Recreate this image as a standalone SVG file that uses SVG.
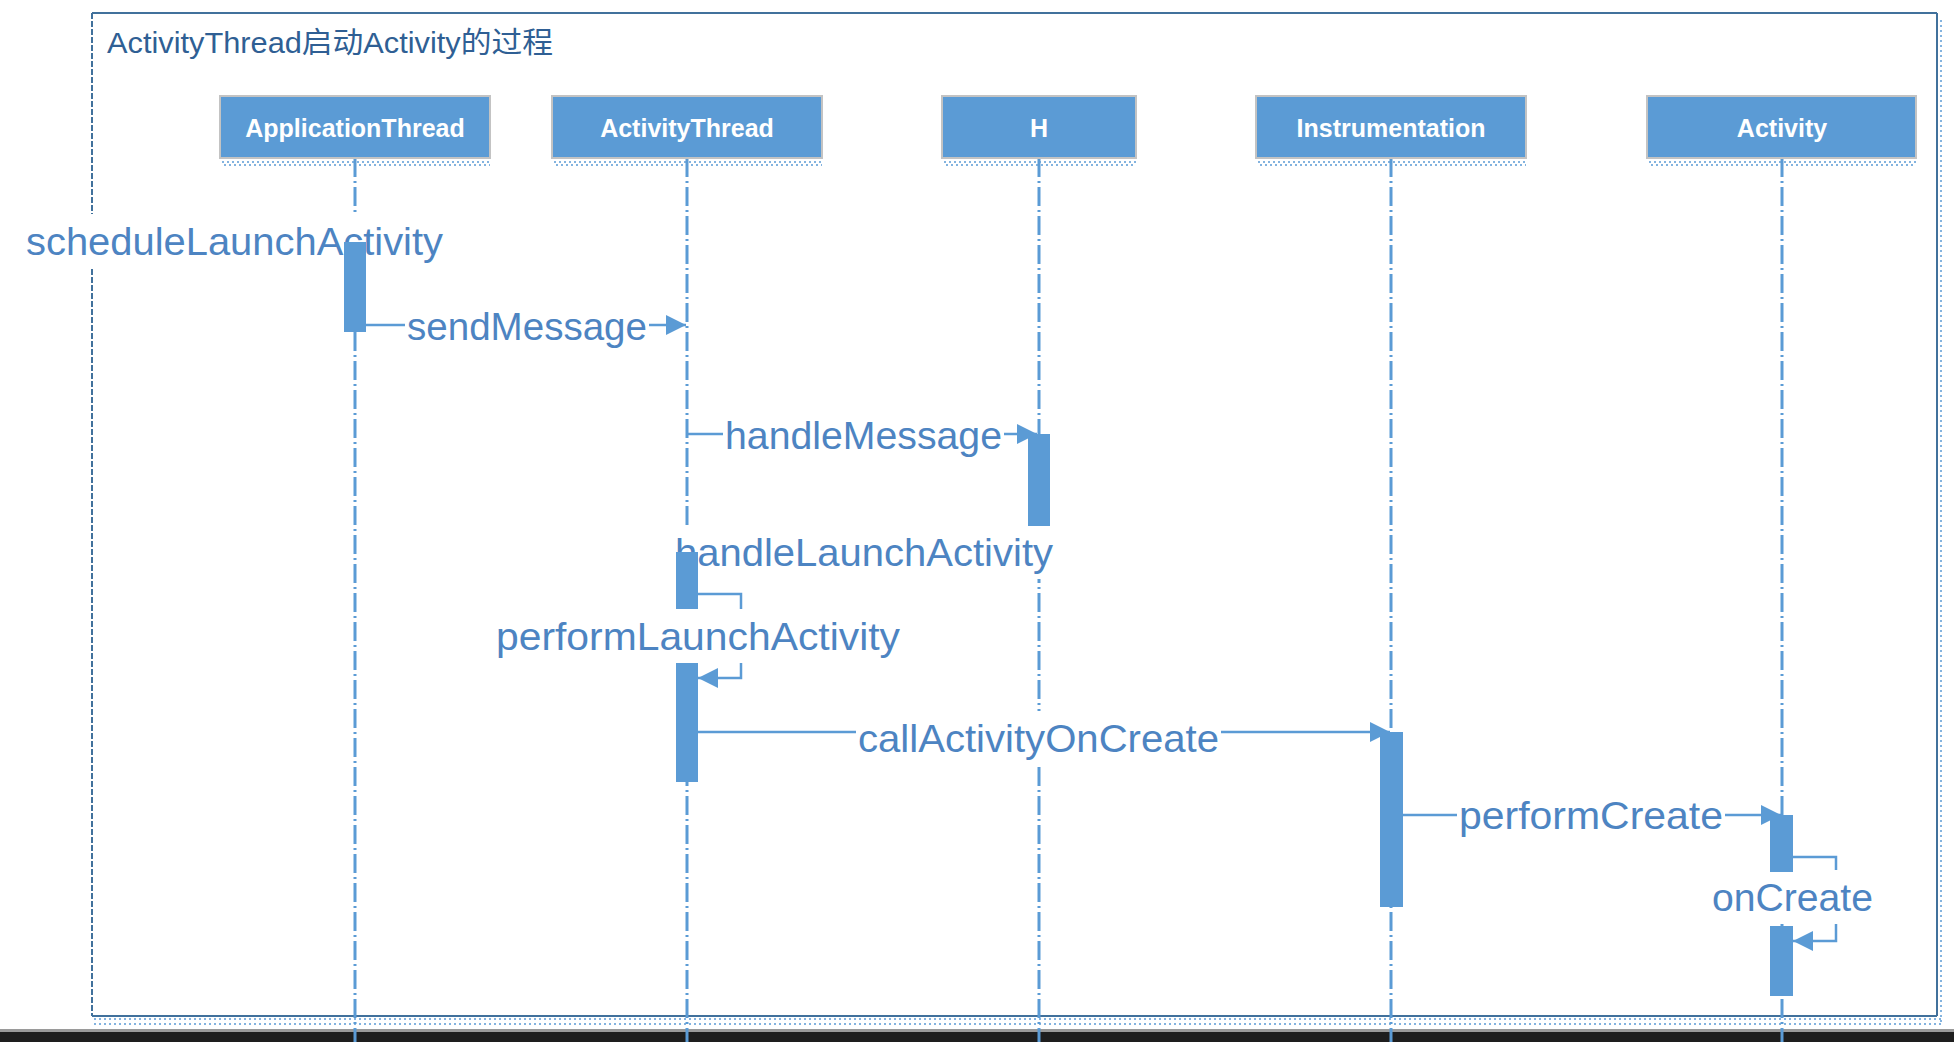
<svg xmlns="http://www.w3.org/2000/svg" width="1954" height="1042" viewBox="0 0 1954 1042">
<defs>
<style>
.box{fill:#5B9BD5;stroke:#c3c3c3;stroke-width:2}
.boxt{font-family:"Liberation Sans",Arial,sans-serif;font-size:25px;font-weight:bold;fill:#ffffff;text-anchor:middle}
.life{stroke:#5B9BD5;stroke-width:3;stroke-dasharray:19 4 2 4;fill:none}
.dots{stroke:#5B9BD5;stroke-width:1.5;stroke-dasharray:2 3;fill:none}
.msg{stroke:#5B9BD5;stroke-width:2.5;fill:none}
.lbl{font-family:"Liberation Sans",Arial,sans-serif;font-size:39px;fill:#4d84c2}
.bg{fill:#ffffff}
.bar{fill:#5B9BD5}
</style>
<marker id="arr" viewBox="0 0 20 20" refX="20" refY="10" markerWidth="20" markerHeight="20" markerUnits="userSpaceOnUse" orient="auto">
<path d="M0,0 L20,10 L0,20 z" fill="#5B9BD5"/>
</marker>
</defs>
<rect x="0" y="0" width="1954" height="1042" fill="#ffffff"/>
<g id="frame">
<line x1="92" y1="13" x2="1937" y2="13" stroke="#41719C" stroke-width="2"/>
<line x1="92" y1="13" x2="92" y2="1016" stroke="#41719C" stroke-width="2" stroke-dasharray="6 2"/>
<line x1="1937" y1="13" x2="1937" y2="1016" stroke="#41719C" stroke-width="2"/>
<line x1="1941" y1="20" x2="1941" y2="1024" class="dots"/>
<line x1="92" y1="1016" x2="1937" y2="1016" stroke="#41719C" stroke-width="2"/>
<line x1="94" y1="1019" x2="1941" y2="1019" class="dots"/>
<line x1="94" y1="1024" x2="1941" y2="1024" class="dots"/>
<text x="107" y="53" font-family="'Liberation Sans','Noto Sans CJK SC',sans-serif" font-size="29" fill="#2f5f94" textLength="446" lengthAdjust="spacingAndGlyphs">ActivityThread启动Activity的过程</text>
</g>
<g id="lifelines">
<line class="life" x1="355" y1="158" x2="355" y2="1042"/>
<line class="life" x1="687" y1="158" x2="687" y2="1042"/>
<line class="life" x1="1039" y1="158" x2="1039" y2="1042"/>
<line class="life" x1="1391" y1="158" x2="1391" y2="1042"/>
<line class="life" x1="1782" y1="158" x2="1782" y2="1042"/>
</g>
<g id="node-applicationthread">
<rect class="box" x="220" y="96" width="270" height="62"/>
<line class="dots" x1="222" y1="162" x2="490" y2="162"/>
<line class="dots" x1="224" y1="165" x2="490" y2="165"/>
<text class="boxt" x="355" y="137">ApplicationThread</text>
</g>
<g id="node-activitythread">
<rect class="box" x="552" y="96" width="270" height="62"/>
<line class="dots" x1="554" y1="162" x2="822" y2="162"/>
<line class="dots" x1="556" y1="165" x2="822" y2="165"/>
<text class="boxt" x="687" y="137">ActivityThread</text>
</g>
<g id="node-h">
<rect class="box" x="942" y="96" width="194" height="62"/>
<line class="dots" x1="944" y1="162" x2="1136" y2="162"/>
<line class="dots" x1="946" y1="165" x2="1136" y2="165"/>
<text class="boxt" x="1039" y="137">H</text>
</g>
<g id="node-instrumentation">
<rect class="box" x="1256" y="96" width="270" height="62"/>
<line class="dots" x1="1258" y1="162" x2="1526" y2="162"/>
<line class="dots" x1="1260" y1="165" x2="1526" y2="165"/>
<text class="boxt" x="1391" y="137">Instrumentation</text>
</g>
<g id="node-activity">
<rect class="box" x="1647" y="96" width="269" height="62"/>
<line class="dots" x1="1649" y1="162" x2="1916" y2="162"/>
<line class="dots" x1="1651" y1="165" x2="1916" y2="165"/>
<text class="boxt" x="1782" y="137">Activity</text>
</g>
<g id="connectors">
<path class="msg" d="M366,325 H686" marker-end="url(#arr)"/>
<path class="msg" d="M687,434 H1037" marker-end="url(#arr)"/>
<path class="msg" d="M698,594 H741 V678 H698" marker-end="url(#arr)"/>
<path class="msg" d="M698,732 H1390" marker-end="url(#arr)"/>
<path class="msg" d="M1403,815 H1781" marker-end="url(#arr)"/>
<path class="msg" d="M1793,857 H1836 V941 H1793" marker-end="url(#arr)"/>
</g>
<g id="labels">
<rect class="bg" x="24" y="214" width="421" height="54"/>
<text class="lbl" x="26" y="255" textLength="417" lengthAdjust="spacingAndGlyphs">scheduleLaunchActivity</text>
<rect class="bg" x="405" y="299" width="244" height="54"/>
<text class="lbl" x="407" y="340" textLength="240" lengthAdjust="spacingAndGlyphs">sendMessage</text>
<rect class="bg" x="723" y="408" width="281" height="54"/>
<text class="lbl" x="725" y="449" textLength="277" lengthAdjust="spacingAndGlyphs">handleMessage</text>
<rect class="bg" x="673" y="525" width="382" height="54"/>
<text class="lbl" x="675" y="566" textLength="378" lengthAdjust="spacingAndGlyphs">handleLaunchActivity</text>
<rect class="bg" x="494" y="609" width="408" height="54"/>
<text class="lbl" x="496" y="650" textLength="404" lengthAdjust="spacingAndGlyphs">performLaunchActivity</text>
<rect class="bg" x="856" y="711" width="365" height="54"/>
<text class="lbl" x="858" y="752" textLength="361" lengthAdjust="spacingAndGlyphs">callActivityOnCreate</text>
<rect class="bg" x="1457" y="788" width="268" height="54"/>
<text class="lbl" x="1459" y="829" textLength="264" lengthAdjust="spacingAndGlyphs">performCreate</text>
<rect class="bg" x="1710" y="870" width="165" height="54"/>
<text class="lbl" x="1712" y="911" textLength="161" lengthAdjust="spacingAndGlyphs">onCreate</text>
</g>
<g id="activations">
<rect class="bar" x="344" y="242" width="22" height="90"/>
<rect class="bar" x="1028" y="434" width="22" height="92"/>
<rect class="bar" x="676" y="552" width="22" height="57"/>
<rect class="bar" x="676" y="663" width="22" height="119"/>
<rect class="bar" x="1380" y="732" width="23" height="175"/>
<rect class="bar" x="1770" y="815" width="23" height="57"/>
<rect class="bar" x="1770" y="926" width="23" height="70"/>
</g>
<g id="statusbar">
<rect x="0" y="1029" width="1954" height="3" fill="#9a9a9a"/>
<rect x="0" y="1032" width="1954" height="10" fill="#1e1e1e"/>
<line class="life" x1="355" y1="1029" x2="355" y2="1042"/>
<line class="life" x1="687" y1="1029" x2="687" y2="1042"/>
<line class="life" x1="1039" y1="1029" x2="1039" y2="1042"/>
<line class="life" x1="1391" y1="1029" x2="1391" y2="1042"/>
<line class="life" x1="1782" y1="1029" x2="1782" y2="1042"/>
</g>
</svg>
